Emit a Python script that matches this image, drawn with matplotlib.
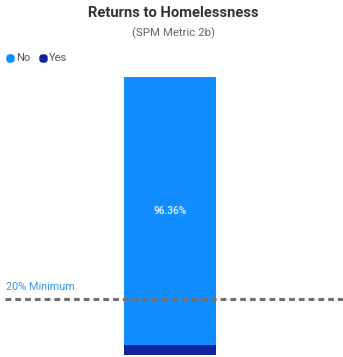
import matplotlib
matplotlib.use("Agg")
import matplotlib.pyplot as plt
from matplotlib.patches import FancyBboxPatch

categories = [""]
no_values = [96.36]
yes_values = [3.64]
threshold = 20
series_names = ["No", "Yes"]
colors = {"No": "#118DFF", "Yes": "#12239E"}

W, H = 343, 357
fig = plt.figure(figsize=(W / 100, H / 100), dpi=100)

# plot area: bar runs from y=77px (top) to y=355px (bottom)
ax = fig.add_axes([0, 2 / H, 1, 278 / H])
ax.set_ylim(0, 100)
ax.set_xlim(-0.5 - 124 / 92, 0.5 + (W - 216) / 92)
ax.axis("off")

x = range(len(categories))
ax.bar(x, yes_values, width=1, color=colors["Yes"], zorder=2)
ax.bar(x, no_values, width=1, bottom=yes_values, color=colors["No"], zorder=2)

for xi, y0, v in zip(x, yes_values, no_values):
    ax.text(xi, y0 + v / 2, f"{v:.2f}%", ha="center", va="center",
            color="#e8f2ff", fontsize=7.2, fontweight="medium",
            family="Roboto", zorder=4)

# minimum reference line
ax.axhline(threshold, xmin=5 / W, xmax=1, color="#707070", lw=2.2,
           dashes=(1.9, 1.3), zorder=3)
ax.text(-0.5 - 118 / 92, threshold + 4.3, f"{threshold}% Minimum",
        ha="left", va="center", color="#3598f5", fontsize=7.8,
        family="Roboto")

# title block
fig.text(173 / W, 1 - 13 / H, "Returns to Homelessness", ha="center",
         va="center", fontsize=10.6, fontweight="bold", color="#333333",
         family="Roboto")
fig.text(173 / W, 1 - 33 / H, "(SPM Metric 2b)", ha="center", va="center",
         fontsize=8.2, color="#666666", family="Roboto")

# legend
lx = 7
for name in series_names:
    fig.patches.append(FancyBboxPatch((lx, H - 62), 7, 7,
                                      boxstyle="round,pad=0,rounding_size=2.5",
                                      transform=None, color=colors[name],
                                      figure=fig))
    fig.text((lx + 9) / W, 1 - 58 / H, name, ha="left", va="center",
             fontsize=8, color="#555555", family="Roboto")
    lx += 33

fig.savefig("out.png", dpi=100)
